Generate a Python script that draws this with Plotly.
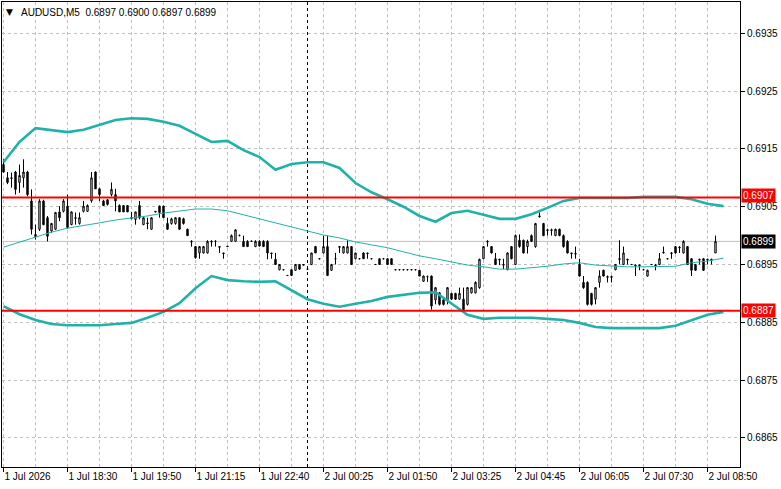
import plotly.graph_objects as go

# ---------------- data ----------------
opens = [
    0.69123,0.69100,0.69100,0.69110,0.69092,0.69100,0.69110,0.69060,0.68998,0.69011,
    0.69060,0.69031,0.69008,0.69011,0.69041,0.69042,0.69051,0.69019,0.69031,0.69021,
    0.69042,0.69042,0.69060,0.69110,0.69081,0.69060,0.69062,0.69071,0.69071,0.69052,
    0.69052,0.69052,0.69031,0.69028,0.69052,0.69019,0.69022,0.69011,0.69042,0.69051,
    0.69051,0.69021,0.69021,0.69021,0.69031,0.69029,0.69011,0.68990,0.68981,0.68970,
    0.68970,0.68970,0.68990,0.68990,0.68981,0.68970,0.68982,0.68990,0.68990,0.69000,
    0.68990,0.68990,0.68990,0.68981,0.68990,0.68990,0.68990,0.68970,0.68959,0.68941,
    0.68941,0.68931,0.68941,0.68940,0.68950,0.68950,0.68942,0.68950,0.68981,0.68960,
    0.68970,0.68981,0.68940,0.68960,0.68981,0.68970,0.68970,0.68981,0.68960,0.68960,
    0.68970,0.68970,0.68960,0.68950,0.68960,0.68960,0.68960,0.68960,0.68941,0.68941,
    0.68941,0.68941,0.68941,0.68941,0.68940,0.68921,0.68929,0.68930,0.68889,0.68901,
    0.68889,0.68889,0.68900,0.68900,0.68890,0.68890,0.68881,0.68901,0.68901,0.68910,
    0.68960,0.68990,0.68981,0.68960,0.68959,0.68950,0.68941,0.68981,0.68950,0.68992,
    0.68992,0.68981,0.69000,0.68981,0.69034,0.69021,0.69010,0.69010,0.69000,0.69011,
    0.69000,0.68990,0.68970,0.68969,0.68950,0.68919,0.68919,0.68900,0.68890,0.68919,
    0.68940,0.68929,0.68929,0.68941,0.68960,0.68950,0.68959,0.68950,0.68949,0.68949,
    0.68941,0.68930,0.68950,0.68949,0.68950,0.68970,0.68960,0.68969,0.68981,0.68980,
    0.68970,0.68981,0.68960,0.68950,0.68959,0.68960,0.68959,0.68959,0.68970,
]
highs = [
    0.69132,0.69110,0.69109,0.69112,0.69123,0.69132,0.69112,0.69080,0.69019,0.69063,
    0.69062,0.69034,0.69022,0.69041,0.69051,0.69063,0.69071,0.69042,0.69040,0.69040,
    0.69060,0.69054,0.69110,0.69111,0.69083,0.69062,0.69063,0.69092,0.69081,0.69054,
    0.69052,0.69052,0.69041,0.69041,0.69060,0.69031,0.69031,0.69031,0.69042,0.69052,
    0.69052,0.69031,0.69031,0.69031,0.69031,0.69031,0.69012,0.68992,0.68982,0.68982,
    0.68982,0.68992,0.68992,0.68992,0.68981,0.68970,0.68982,0.69002,0.69011,0.69002,
    0.69000,0.68992,0.68992,0.68992,0.68992,0.68992,0.68992,0.68970,0.68970,0.68950,
    0.68942,0.68932,0.68942,0.68951,0.68951,0.68950,0.68944,0.68970,0.68982,0.68961,
    0.69000,0.69000,0.68951,0.68970,0.68981,0.68982,0.68992,0.68982,0.68970,0.68960,
    0.68971,0.68970,0.68960,0.68951,0.68960,0.68960,0.68960,0.68960,0.68942,0.68942,
    0.68942,0.68942,0.68942,0.68942,0.68941,0.68931,0.68931,0.68931,0.68911,0.68902,
    0.68890,0.68911,0.68901,0.68901,0.68910,0.68910,0.68911,0.68911,0.68921,0.68960,
    0.68982,0.68992,0.68982,0.68970,0.68960,0.68960,0.68971,0.68982,0.69002,0.69002,
    0.68993,0.68993,0.69002,0.69022,0.69040,0.69022,0.69012,0.69012,0.69012,0.69012,
    0.69002,0.68992,0.68970,0.68981,0.68960,0.68930,0.68921,0.68901,0.68911,0.68940,
    0.68941,0.68931,0.68931,0.68951,0.68992,0.68981,0.68960,0.68951,0.68950,0.68950,
    0.68942,0.68941,0.68951,0.68951,0.68970,0.68981,0.68960,0.68971,0.68982,0.68982,
    0.68992,0.68982,0.68961,0.68951,0.68960,0.68961,0.68960,0.68960,0.69000,
]
lows = [
    0.69109,0.69089,0.69083,0.69071,0.69074,0.69083,0.69068,0.69002,0.68993,0.69008,
    0.69018,0.68990,0.69005,0.69010,0.69025,0.69040,0.69012,0.69018,0.69019,0.69019,
    0.69040,0.69041,0.69057,0.69081,0.69060,0.69051,0.69052,0.69068,0.69042,0.69041,
    0.69041,0.69041,0.69028,0.69019,0.69028,0.69018,0.69011,0.69010,0.69041,0.69031,
    0.69031,0.69010,0.69019,0.69019,0.69010,0.69019,0.69000,0.68981,0.68960,0.68960,
    0.68969,0.68969,0.68981,0.68981,0.68970,0.68960,0.68981,0.68990,0.68990,0.68999,
    0.68981,0.68981,0.68989,0.68980,0.68981,0.68981,0.68959,0.68960,0.68950,0.68940,
    0.68940,0.68930,0.68930,0.68939,0.68941,0.68949,0.68941,0.68949,0.68970,0.68959,
    0.68969,0.68930,0.68939,0.68950,0.68970,0.68969,0.68969,0.68949,0.68959,0.68959,
    0.68960,0.68960,0.68959,0.68949,0.68950,0.68959,0.68950,0.68950,0.68940,0.68940,
    0.68940,0.68940,0.68940,0.68940,0.68930,0.68920,0.68920,0.68872,0.68881,0.68879,
    0.68879,0.68881,0.68889,0.68889,0.68889,0.68871,0.68879,0.68900,0.68900,0.68908,
    0.68959,0.68981,0.68969,0.68949,0.68949,0.68942,0.68940,0.68959,0.68949,0.68979,
    0.68969,0.68969,0.68989,0.68979,0.69031,0.68999,0.69000,0.69000,0.68999,0.68999,
    0.68979,0.68969,0.68960,0.68960,0.68929,0.68908,0.68879,0.68879,0.68881,0.68910,
    0.68929,0.68919,0.68919,0.68940,0.68950,0.68949,0.68950,0.68949,0.68930,0.68940,
    0.68940,0.68929,0.68949,0.68940,0.68949,0.68969,0.68959,0.68960,0.68969,0.68970,
    0.68969,0.68949,0.68930,0.68939,0.68950,0.68939,0.68950,0.68950,0.68970,
]
closes = [
    0.69110,0.69092,0.69099,0.69080,0.69104,0.69110,0.69071,0.69011,0.69002,0.69060,
    0.69019,0.68999,0.69021,0.69040,0.69031,0.69060,0.69014,0.69041,0.69030,0.69031,
    0.69051,0.69052,0.69100,0.69081,0.69071,0.69052,0.69054,0.69080,0.69060,0.69041,
    0.69041,0.69041,0.69030,0.69041,0.69031,0.69031,0.69021,0.69031,0.69041,0.69040,
    0.69031,0.69011,0.69029,0.69031,0.69011,0.69021,0.69000,0.68989,0.68962,0.68981,
    0.68981,0.68990,0.68989,0.68990,0.68980,0.68969,0.68981,0.69000,0.69010,0.69000,
    0.68981,0.68981,0.68990,0.68990,0.68982,0.68981,0.68970,0.68969,0.68950,0.68950,
    0.68941,0.68931,0.68931,0.68950,0.68942,0.68949,0.68942,0.68970,0.68970,0.68960,
    0.68981,0.68931,0.68950,0.68960,0.68980,0.68981,0.68981,0.68950,0.68970,0.68960,
    0.68960,0.68969,0.68960,0.68950,0.68950,0.68960,0.68950,0.68950,0.68941,0.68941,
    0.68941,0.68941,0.68941,0.68941,0.68930,0.68930,0.68929,0.68878,0.68910,0.68881,
    0.68881,0.68910,0.68890,0.68890,0.68900,0.68872,0.68910,0.68910,0.68919,0.68959,
    0.68981,0.68989,0.68970,0.68950,0.68958,0.68949,0.68970,0.68960,0.69000,0.68981,
    0.68970,0.68990,0.68990,0.69021,0.69033,0.69000,0.69009,0.69009,0.69011,0.69000,
    0.68981,0.68970,0.68969,0.68968,0.68930,0.68910,0.68881,0.68881,0.68910,0.68930,
    0.68930,0.68928,0.68928,0.68950,0.68959,0.68970,0.68958,0.68950,0.68948,0.68948,
    0.68941,0.68940,0.68950,0.68948,0.68960,0.68971,0.68960,0.68970,0.68970,0.68979,
    0.68990,0.68950,0.68940,0.68940,0.68958,0.68940,0.68958,0.68958,0.68990,
]
bars = list(range(len(opens)))

# Bollinger bands, read every 4 bars (indicator drawn 2 bars ahead of price)
band_bars = list(range(0, 181, 4))
bb_upper = [
    0.69127,0.69162,0.69186,0.69183,0.69179,0.69183,0.69191,0.69200,0.69203,0.69202,
    0.69197,0.69190,0.69176,0.69162,0.69164,0.69148,0.69136,0.69114,0.69124,0.69127,
    0.69127,0.69117,0.69091,0.69075,0.69063,0.69050,0.69034,0.69024,0.69039,0.69043,
    0.69036,0.69029,0.69029,0.69037,0.69048,0.69060,0.69065,0.69065,0.69065,0.69065,
    0.69067,0.69067,0.69067,0.69063,0.69055,0.69051,
]
bb_middle = [
    0.68980,0.68989,0.68998,0.69006,0.69013,0.69017,0.69022,0.69027,0.69030,0.69034,
    0.69039,0.69043,0.69046,0.69046,0.69043,0.69036,0.69029,0.69022,0.69015,0.69008,
    0.69001,0.68996,0.68989,0.68984,0.68979,0.68972,0.68965,0.68960,0.68954,0.68949,
    0.68946,0.68942,0.68942,0.68944,0.68947,0.68951,0.68953,0.68949,0.68947,0.68946,
    0.68946,0.68946,0.68947,0.68953,0.68956,0.68961,
]
bb_lower = [
    0.68878,0.68864,0.68854,0.68847,0.68845,0.68845,0.68845,0.68847,0.68849,0.68858,
    0.68868,0.68883,0.68909,0.68930,0.68923,0.68921,0.68920,0.68921,0.68906,0.68890,
    0.68882,0.68877,0.68882,0.68887,0.68894,0.68897,0.68901,0.68902,0.68882,0.68863,
    0.68856,0.68858,0.68858,0.68858,0.68856,0.68854,0.68849,0.68842,0.68840,0.68840,
    0.68840,0.68840,0.68844,0.68854,0.68863,0.68868,
]

x_tick_bars = [0, 16, 32, 48, 64, 80, 96, 112, 128, 144, 160, 176]
x_tick_text = ["1 Jul 2026", "1 Jul 18:30", "1 Jul 19:50", "1 Jul 21:15", "1 Jul 22:40",
               "2 Jul 00:25", "2 Jul 01:50", "2 Jul 03:25", "2 Jul 04:45", "2 Jul 06:05",
               "2 Jul 07:30", "2 Jul 08:50"]
y_ticks = [0.6865, 0.6875, 0.6885, 0.6895, 0.6905, 0.6915, 0.6925, 0.6935]

resistance = 0.69066
support = 0.68870
last_price = 0.68990
day_separator_bar = 76
header = "AUDUSD,M5\u00a0\u00a00.6897 0.6900 0.6897 0.6899"

# ---------------- figure ----------------
FONT = "Liberation Sans"
TEAL = "#20B2AA"
GRID = "#C0C0C0"

fig = go.Figure()

fig.add_trace(go.Scatter(x=band_bars, y=bb_upper, mode="lines",
                         line=dict(color=TEAL, width=2.6), hoverinfo="skip"))
fig.add_trace(go.Scatter(x=band_bars, y=bb_lower, mode="lines",
                         line=dict(color=TEAL, width=2.6), hoverinfo="skip"))
fig.add_trace(go.Scatter(x=band_bars, y=bb_middle, mode="lines",
                         line=dict(color=TEAL, width=1), hoverinfo="skip"))

fig.add_trace(go.Candlestick(
    x=bars, open=opens, high=highs, low=lows, close=closes,
    increasing=dict(line=dict(color="black", width=1), fillcolor="white"),
    decreasing=dict(line=dict(color="black", width=1), fillcolor="black"),
    whiskerwidth=0, hoverinfo="skip",
))

# horizontal level lines
fig.add_shape(type="line", xref="paper", x0=0, x1=1, y0=last_price, y1=last_price,
              line=dict(color=GRID, width=1), layer="below")
for lvl in (resistance, support):
    fig.add_shape(type="line", xref="paper", x0=0, x1=1, y0=lvl, y1=lvl,
                  line=dict(color="#FF0000", width=2), layer="above")
# day separator
fig.add_shape(type="line", yref="paper", x0=day_separator_bar, x1=day_separator_bar,
              y0=0, y1=1, line=dict(color="black", width=1, dash="3px,3px"), layer="below")

# price labels on right
for val, txt, bg, dy in ((resistance, "0.6907", "#FF0000", 2), (support, "0.6887", "#FF0000", 0),
                         (last_price, "0.6899", "#000000", 0)):
    fig.add_annotation(xref="paper", x=1, xanchor="left", xshift=1, yref="y", y=val,
                       yshift=dy, text=txt, showarrow=False, bgcolor=bg, borderpad=1,
                       font=dict(family=FONT, size=10, color="white"))

# header
fig.add_annotation(xref="paper", yref="paper", x=0, y=1, xanchor="left", yanchor="top",
                   xshift=2, yshift=-3, text="▼", showarrow=False,
                   font=dict(family="DejaVu Sans", size=9, color="black"))
fig.add_annotation(xref="paper", yref="paper", x=0, y=1, xanchor="left", yanchor="top",
                   xshift=17, yshift=-3, text=header, showarrow=False,
                   font=dict(family=FONT, size=10, color="black"))

fig.update_layout(
    width=781, height=489,
    margin=dict(l=2, r=41, t=2, b=22),
    paper_bgcolor="white", plot_bgcolor="white",
    showlegend=False, boxgap=0.5,
    font=dict(family=FONT, size=10, color="black"),
    xaxis=dict(
        range=[-0.375, 184.125], rangeslider=dict(visible=False),
        tickmode="array", tickvals=x_tick_bars, ticktext=x_tick_text,
        ticks="outside", ticklen=4, tickcolor="black",
        ticklabelposition="outside right",
        showgrid=True, gridcolor=GRID, griddash="3px,3px", gridwidth=1,
        minor=dict(tick0=0, dtick=8, showgrid=True, gridcolor=GRID, griddash="3px,3px", ticks=""),
        showline=True, linecolor="black", linewidth=1, mirror=True,
        zeroline=False, fixedrange=True,
    ),
    yaxis=dict(
        side="right", range=[0.6859965, 0.694042],
        tickmode="array", tickvals=y_ticks, ticktext=[f"{v:.4f}" for v in y_ticks],
        ticks="outside", ticklen=4, tickcolor="black",
        showgrid=True, gridcolor=GRID, griddash="3px,3px", gridwidth=1,
        showline=True, linecolor="black", linewidth=1, mirror=True,
        zeroline=False, fixedrange=True,
    ),
)

fig.write_html("out.html")
